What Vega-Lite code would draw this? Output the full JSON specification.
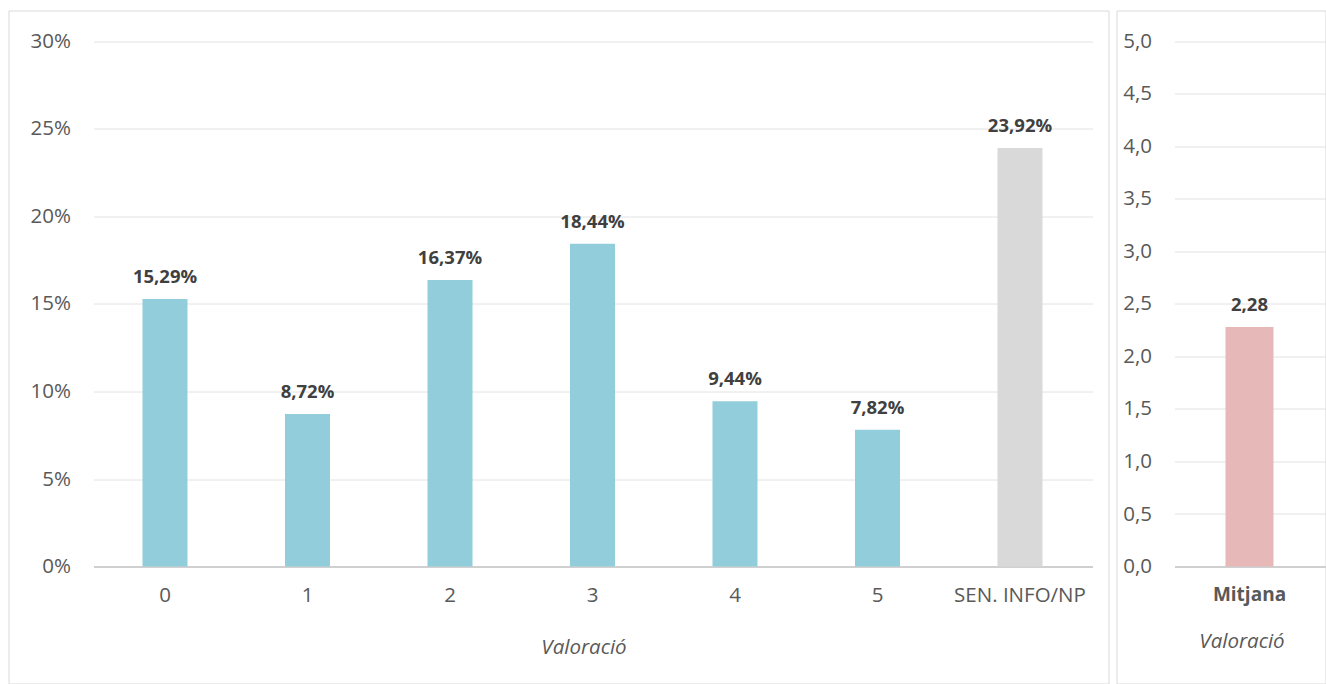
{
  "$schema": "https://vega.github.io/schema/vega-lite/v6.json",
  "padding": {"left": 7.5, "top": 9.5, "right": 0, "bottom": 0},
  "autosize": {"type": "pad"},
  "background": "white",
  "spacing": 8,
  "bounds": "flush",
  "config": {
    "font": "Open Sans",
    "view": {"stroke": "#d9d9d9", "strokeWidth": 1},
    "locale": {"number": {"decimal": ",", "thousands": ".", "grouping": [3], "currency": ["", " €"]}},
    "axis": {"labelColor": "#595959", "titleColor": "#595959", "labelFont": "Open Sans", "titleFont": "Open Sans", "zindex": 0}
  },
  "hconcat": [
    {
      "width": 1100,
      "height": 673,
      "data": {"values": [
        {"cat": "0", "pct": 0.1529},
        {"cat": "1", "pct": 0.0872},
        {"cat": "2", "pct": 0.1637},
        {"cat": "3", "pct": 0.1844},
        {"cat": "4", "pct": 0.0944},
        {"cat": "5", "pct": 0.0782},
        {"cat": "SEN. INFO/NP", "pct": 0.2392}
      ]},
      "layer": [
        {
          "mark": {"type": "bar"},
          "encoding": {
            "x": {"field": "cat", "type": "nominal", "sort": null,
              "scale": {"paddingInner": 0.684, "paddingOuter": 0.7017, "align": 0.67, "round": false},
              "axis": {"title": "Valoració", "orient": "bottom", "offset": -117, "domain": false, "ticks": false, "labelPadding": 19, "labelAngle": 0, "labelFontSize": 20.5, "labelOverlap": false, "titleFontSize": 20.5, "titleFontStyle": "italic", "titleFontWeight": "normal", "titlePadding": 31, "titleX": 575, "titleAlign": "center"}},
            "y": {"field": "pct", "type": "quantitative",
              "scale": {"domain": [-0.066857, 0.317714], "nice": false, "zero": false},
              "axis": {"title": null, "orient": "left", "offset": -1084, "values": [0, 0.05, 0.1, 0.15, 0.2, 0.25, 0.3], "format": ".0%", "domain": false, "grid": false, "ticks": true, "tickSize": 999,
                "tickColor": {"condition": {"test": "datum.value === 0", "value": "#d0d0d0"}, "value": "#e2e2e2"},
                "tickWidth": {"condition": {"test": "datum.value === 0", "value": 2}, "value": 1},
                "labelPadding": 23, "labelFontSize": 20.5, "labelOverlap": false, "labelFlush": false}},
            "y2": {"datum": 0},
            "color": {"condition": {"test": "datum.cat === 'SEN. INFO/NP'", "value": "#D9D9D9"}, "value": "#92CDDC"}
          }
        },
        {
          "mark": {"type": "text", "dy": -16, "baseline": "alphabetic", "fontWeight": "bold", "fontSize": 18.5, "color": "#404040", "font": "Open Sans"},
          "encoding": {
            "x": {"field": "cat", "type": "nominal", "sort": null},
            "y": {"field": "pct", "type": "quantitative"},
            "text": {"field": "pct", "type": "quantitative", "format": ".2%"}
          }
        }
      ]
    },
    {
      "width": 209,
      "height": 673,
      "data": {"values": [
        {"cat": "Mitjana", "val": 2.28}
      ]},
      "layer": [
        {
          "mark": {"type": "bar", "color": "#E6B9B8"},
          "encoding": {
            "x": {"field": "cat", "type": "nominal", "sort": null,
              "scale": {"paddingInner": 0.68, "paddingOuter": 0.5367, "align": 0.677, "round": false},
              "axis": {"title": "Valoració", "orient": "bottom", "offset": -117, "domain": false, "ticks": false, "labelPadding": 19, "labelAngle": 0, "labelFontSize": 19, "labelFontWeight": "bold", "labelOverlap": false, "titleFontSize": 20.5, "titleFontStyle": "italic", "titleFontWeight": "normal", "titlePadding": 27, "titleX": 125, "titleAlign": "center"}},
            "y": {"field": "val", "type": "quantitative",
              "scale": {"domain": [-1.114286, 5.295238], "nice": false, "zero": false},
              "axis": {"title": null, "orient": "left", "offset": -209, "values": [0, 0.5, 1, 1.5, 2, 2.5, 3, 3.5, 4, 4.5, 5], "format": ".1f", "domain": false, "grid": false, "ticks": true, "tickSize": 151,
                "tickColor": {"condition": {"test": "datum.value === 0", "value": "#d0d0d0"}, "value": "#e2e2e2"},
                "tickWidth": {"condition": {"test": "datum.value === 0", "value": 2}, "value": 1},
                "labelPadding": 23, "labelFontSize": 20.5, "labelOverlap": false, "labelFlush": false}},
            "y2": {"datum": 0}
          }
        },
        {
          "mark": {"type": "text", "dy": -16, "baseline": "alphabetic", "fontWeight": "bold", "fontSize": 18.5, "color": "#404040", "font": "Open Sans"},
          "encoding": {
            "x": {"field": "cat", "type": "nominal", "sort": null},
            "y": {"field": "val", "type": "quantitative"},
            "text": {"field": "val", "type": "quantitative", "format": ".2f"}
          }
        }
      ]
    }
  ]
}
